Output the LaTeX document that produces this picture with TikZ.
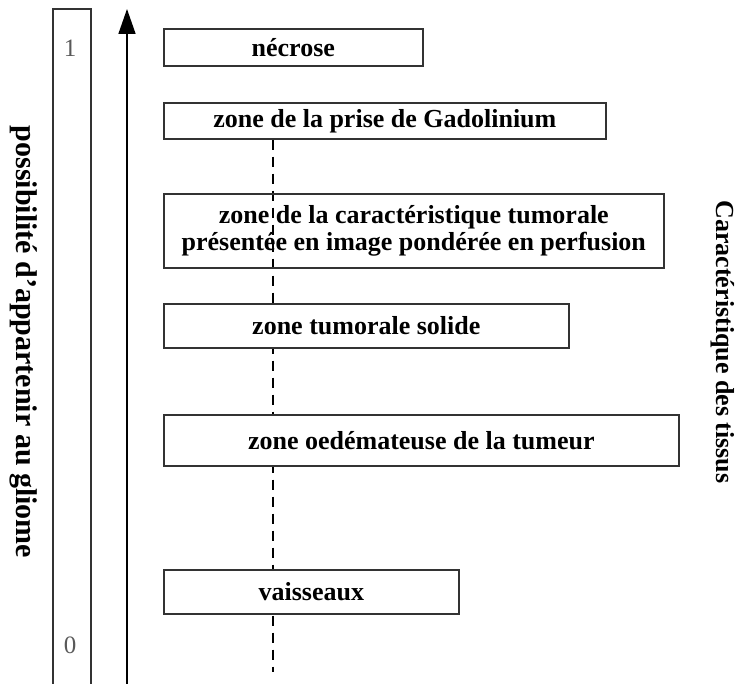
\documentclass[tikz,border=0pt]{standalone}
\usepackage{fontspec}
\setmainfont{Liberation Serif}
\usetikzlibrary{arrows.meta,backgrounds}

\begin{document}
\begin{tikzpicture}[x=1pt,y=-1pt,
	zone/.style={draw=black!80,line width=1.6pt,fill=white,anchor=north west,inner sep=0pt,
		align=center,font=\fontsize{26}{27}\selectfont\bfseries},
	axelabel/.style={rotate=-90,font=\fontsize{#1}{#1}\selectfont\bfseries},
	graduation/.style={text=black!65,font=\fontsize{25}{25}\selectfont}]
	\useasboundingbox (0,0) rectangle (744,684);
	\clip (0,0) rectangle (744,684);
	% echelle de gauche
	\draw[line width=1.4pt,draw=black!80] (53,9) rectangle (91,720);
	\node[graduation] (un) at (70,48) {1};
	\node[graduation] (zero) at (70,645) {0};
	\coordinate (base) at (127,700);
	\coordinate (sommet) at (127,9);
	\draw[line width=1.6pt,-{Triangle[length=25pt,width=17pt]}] (base) -- (sommet);
	\node[axelabel=30] (possib) at (24,342) {possibilité d'appartenir au gliome};
	\node[axelabel=26] (caract) at (723,342) {Caractéristique des tissus};
	% les zones
	\node[zone,minimum width=259,minimum height=37] (necrose) at (163,28) {nécrose};
	\node[zone,minimum width=442,minimum height=36] (gado) at (163,102) {zone de la prise de Gadolinium};
	\node[zone,fill=none,minimum width=500,minimum height=74] (perf) at (163,193) {zone de la caractéristique tumorale\\présentée en image pondérée en perfusion};
	\node[zone,minimum width=405,minimum height=44] (solide) at (163,303) {zone tumorale solide};
	\node[zone,minimum width=515,minimum height=51] (oedeme) at (163,414) {zone oedémateuse de la tumeur};
	\node[zone,minimum width=295,minimum height=44] (vaisseaux) at (163,569) {vaisseaux};
	\coordinate (fin) at (273,672);
	\begin{scope}[on background layer]
		\draw[line width=1.4pt,dash pattern=on 10pt off 7pt] (gado.south -| fin) -- (fin);
	\end{scope}
\end{tikzpicture}
\end{document}
